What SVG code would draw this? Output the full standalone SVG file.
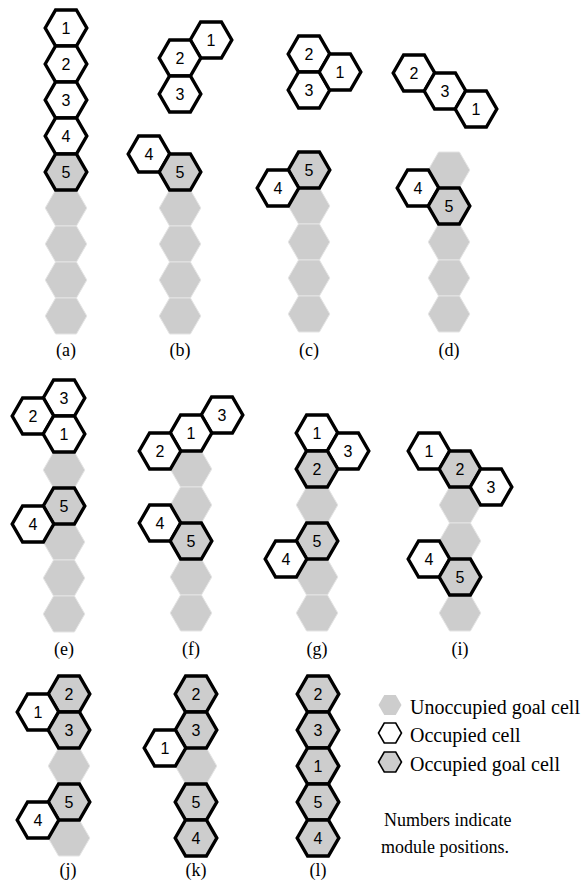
<svg xmlns="http://www.w3.org/2000/svg" xmlns:xlink="http://www.w3.org/1999/xlink" width="587" height="889" viewBox="0 0 587 889">
  <style>
    .g  { fill: #cdcdcd; stroke: #e4e4e4; stroke-width: 1; }
    .o  { fill: #ffffff; stroke: #000000; stroke-width: 3.4; stroke-linejoin: miter; }
    .og { fill: #cdcdcd; stroke: #000000; stroke-width: 3.4; stroke-linejoin: miter; }
    .n  { font-family: "Liberation Sans", Arial, sans-serif; font-size: 16px; text-anchor: middle; fill: #000; }
    .cap { font-family: "Liberation Serif", "Times New Roman", serif; font-size: 18px; text-anchor: middle; fill: #000; }
    .lg { font-family: "Liberation Serif", "Times New Roman", serif; font-size: 20px; fill: #000; }
    .nt { font-family: "Liberation Serif", "Times New Roman", serif; font-size: 18px; fill: #000; }
    .lo { fill: #ffffff; stroke: #000; stroke-width: 1.6; }
    .log { fill: #cdcdcd; stroke: #000; stroke-width: 1.6; }
    .lg0 { fill: #cdcdcd; }
  </style>
  <defs>
    <!-- flat-topped hexagon, circumradius 20.8 -->
    <path id="hex" d="M-20.8,0 L-10.4,-18 L10.4,-18 L20.8,0 L10.4,18 L-10.4,18 Z"/>
    <path id="hexs" d="M-11.5,0 L-5.75,-10 L5.75,-10 L11.5,0 L5.75,10 L-5.75,10 Z"/>
  </defs>

  <!-- (a) -->
  <g id="panel-a">
    <g id="a-g1"><use xlink:href="#hex" href="#hex" class="g" x="66" y="208"/></g>
    <g id="a-g2"><use xlink:href="#hex" href="#hex" class="g" x="66" y="244"/></g>
    <g id="a-g3"><use xlink:href="#hex" href="#hex" class="g" x="66" y="280"/></g>
    <g id="a-g4"><use xlink:href="#hex" href="#hex" class="g" x="66" y="316"/></g>
    <g id="a-m1"><use xlink:href="#hex" href="#hex" class="o" x="66" y="28"/><text class="n" x="66" y="34">1</text></g>
    <g id="a-m2"><use xlink:href="#hex" href="#hex" class="o" x="66" y="64"/><text class="n" x="66" y="70">2</text></g>
    <g id="a-m3"><use xlink:href="#hex" href="#hex" class="o" x="66" y="100"/><text class="n" x="66" y="106">3</text></g>
    <g id="a-m4"><use xlink:href="#hex" href="#hex" class="o" x="66" y="136"/><text class="n" x="66" y="142">4</text></g>
    <g id="a-m5"><use xlink:href="#hex" href="#hex" class="og" x="66" y="172"/><text class="n" x="66" y="178">5</text></g>
    <text class="cap" x="66" y="356">(a)</text>
  </g>

  <!-- (b) -->
  <g id="panel-b">
    <g id="b-g1"><use xlink:href="#hex" href="#hex" class="g" x="180" y="208"/></g>
    <g id="b-g2"><use xlink:href="#hex" href="#hex" class="g" x="180" y="244"/></g>
    <g id="b-g3"><use xlink:href="#hex" href="#hex" class="g" x="180" y="280"/></g>
    <g id="b-g4"><use xlink:href="#hex" href="#hex" class="g" x="180" y="316"/></g>
    <g id="b-m1"><use xlink:href="#hex" href="#hex" class="o" x="211" y="40"/><text class="n" x="211" y="46">1</text></g>
    <g id="b-m2"><use xlink:href="#hex" href="#hex" class="o" x="180" y="58"/><text class="n" x="180" y="64">2</text></g>
    <g id="b-m3"><use xlink:href="#hex" href="#hex" class="o" x="180" y="94"/><text class="n" x="180" y="100">3</text></g>
    <g id="b-m4"><use xlink:href="#hex" href="#hex" class="o" x="149" y="154"/><text class="n" x="149" y="160">4</text></g>
    <g id="b-m5"><use xlink:href="#hex" href="#hex" class="og" x="180" y="172"/><text class="n" x="180" y="178">5</text></g>
    <text class="cap" x="180" y="356">(b)</text>
  </g>

  <!-- (c) -->
  <g id="panel-c">
    <g id="c-g1"><use xlink:href="#hex" href="#hex" class="g" x="309" y="206"/></g>
    <g id="c-g2"><use xlink:href="#hex" href="#hex" class="g" x="309" y="242"/></g>
    <g id="c-g3"><use xlink:href="#hex" href="#hex" class="g" x="309" y="278"/></g>
    <g id="c-g4"><use xlink:href="#hex" href="#hex" class="g" x="309" y="314"/></g>
    <g id="c-m2"><use xlink:href="#hex" href="#hex" class="o" x="309" y="54"/><text class="n" x="309" y="60">2</text></g>
    <g id="c-m3"><use xlink:href="#hex" href="#hex" class="o" x="309" y="90"/><text class="n" x="309" y="96">3</text></g>
    <g id="c-m1"><use xlink:href="#hex" href="#hex" class="o" x="340" y="72"/><text class="n" x="340" y="78">1</text></g>
    <g id="c-m5"><use xlink:href="#hex" href="#hex" class="og" x="309" y="170"/><text class="n" x="309" y="176">5</text></g>
    <g id="c-m4"><use xlink:href="#hex" href="#hex" class="o" x="278" y="188"/><text class="n" x="278" y="194">4</text></g>
    <text class="cap" x="309" y="356">(c)</text>
  </g>

  <!-- (d) -->
  <g id="panel-d">
    <g id="d-g0"><use xlink:href="#hex" href="#hex" class="g" x="449" y="170"/></g>
    <g id="d-g1"><use xlink:href="#hex" href="#hex" class="g" x="449" y="242"/></g>
    <g id="d-g2"><use xlink:href="#hex" href="#hex" class="g" x="449" y="278"/></g>
    <g id="d-g3"><use xlink:href="#hex" href="#hex" class="g" x="449" y="314"/></g>
    <g id="d-m2"><use xlink:href="#hex" href="#hex" class="o" x="414" y="73"/><text class="n" x="414" y="79">2</text></g>
    <g id="d-m3"><use xlink:href="#hex" href="#hex" class="o" x="445" y="91"/><text class="n" x="445" y="97">3</text></g>
    <g id="d-m1"><use xlink:href="#hex" href="#hex" class="o" x="476" y="109"/><text class="n" x="476" y="115">1</text></g>
    <g id="d-m4"><use xlink:href="#hex" href="#hex" class="o" x="418" y="188"/><text class="n" x="418" y="194">4</text></g>
    <g id="d-m5"><use xlink:href="#hex" href="#hex" class="og" x="449" y="206"/><text class="n" x="449" y="212">5</text></g>
    <text class="cap" x="449" y="356">(d)</text>
  </g>

  <!-- (e) -->
  <g id="panel-e">
    <g id="e-g1"><use xlink:href="#hex" href="#hex" class="g" x="64" y="470"/></g>
    <g id="e-g2"><use xlink:href="#hex" href="#hex" class="g" x="64" y="542"/></g>
    <g id="e-g3"><use xlink:href="#hex" href="#hex" class="g" x="64" y="578"/></g>
    <g id="e-g4"><use xlink:href="#hex" href="#hex" class="g" x="64" y="614"/></g>
    <g id="e-m3"><use xlink:href="#hex" href="#hex" class="o" x="64" y="398"/><text class="n" x="64" y="404">3</text></g>
    <g id="e-m2"><use xlink:href="#hex" href="#hex" class="o" x="33" y="416"/><text class="n" x="33" y="422">2</text></g>
    <g id="e-m1"><use xlink:href="#hex" href="#hex" class="o" x="64" y="434"/><text class="n" x="64" y="440">1</text></g>
    <g id="e-m5"><use xlink:href="#hex" href="#hex" class="og" x="64" y="506"/><text class="n" x="64" y="512">5</text></g>
    <g id="e-m4"><use xlink:href="#hex" href="#hex" class="o" x="33" y="524"/><text class="n" x="33" y="530">4</text></g>
    <text class="cap" x="64" y="655">(e)</text>
  </g>

  <!-- (f) -->
  <g id="panel-f">
    <g id="f-g1"><use xlink:href="#hex" href="#hex" class="g" x="191" y="469"/></g>
    <g id="f-g2"><use xlink:href="#hex" href="#hex" class="g" x="191" y="505"/></g>
    <g id="f-g3"><use xlink:href="#hex" href="#hex" class="g" x="191" y="577"/></g>
    <g id="f-g4"><use xlink:href="#hex" href="#hex" class="g" x="191" y="613"/></g>
    <g id="f-m3"><use xlink:href="#hex" href="#hex" class="o" x="222" y="415"/><text class="n" x="222" y="421">3</text></g>
    <g id="f-m1"><use xlink:href="#hex" href="#hex" class="o" x="191" y="433"/><text class="n" x="191" y="439">1</text></g>
    <g id="f-m2"><use xlink:href="#hex" href="#hex" class="o" x="160" y="451"/><text class="n" x="160" y="457">2</text></g>
    <g id="f-m4"><use xlink:href="#hex" href="#hex" class="o" x="160" y="523"/><text class="n" x="160" y="529">4</text></g>
    <g id="f-m5"><use xlink:href="#hex" href="#hex" class="og" x="191" y="541"/><text class="n" x="191" y="547">5</text></g>
    <text class="cap" x="191" y="655">(f)</text>
  </g>

  <!-- (g) -->
  <g id="panel-g">
    <g id="g-g1"><use xlink:href="#hex" href="#hex" class="g" x="317" y="505"/></g>
    <g id="g-g2"><use xlink:href="#hex" href="#hex" class="g" x="317" y="577"/></g>
    <g id="g-g3"><use xlink:href="#hex" href="#hex" class="g" x="317" y="613"/></g>
    <g id="g-m1"><use xlink:href="#hex" href="#hex" class="o" x="317" y="433"/><text class="n" x="317" y="439">1</text></g>
    <g id="g-m3"><use xlink:href="#hex" href="#hex" class="o" x="348" y="451"/><text class="n" x="348" y="457">3</text></g>
    <g id="g-m2"><use xlink:href="#hex" href="#hex" class="og" x="317" y="469"/><text class="n" x="317" y="475">2</text></g>
    <g id="g-m5"><use xlink:href="#hex" href="#hex" class="og" x="317" y="541"/><text class="n" x="317" y="547">5</text></g>
    <g id="g-m4"><use xlink:href="#hex" href="#hex" class="o" x="286" y="559"/><text class="n" x="286" y="565">4</text></g>
    <text class="cap" x="317" y="655">(g)</text>
  </g>

  <!-- (i) -->
  <g id="panel-i">
    <g id="i-g1"><use xlink:href="#hex" href="#hex" class="g" x="460" y="505"/></g>
    <g id="i-g2"><use xlink:href="#hex" href="#hex" class="g" x="460" y="541"/></g>
    <g id="i-g3"><use xlink:href="#hex" href="#hex" class="g" x="460" y="613"/></g>
    <g id="i-m1"><use xlink:href="#hex" href="#hex" class="o" x="429" y="451"/><text class="n" x="429" y="457">1</text></g>
    <g id="i-m2"><use xlink:href="#hex" href="#hex" class="og" x="460" y="469"/><text class="n" x="460" y="475">2</text></g>
    <g id="i-m3"><use xlink:href="#hex" href="#hex" class="o" x="491" y="487"/><text class="n" x="491" y="493">3</text></g>
    <g id="i-m4"><use xlink:href="#hex" href="#hex" class="o" x="429" y="559"/><text class="n" x="429" y="565">4</text></g>
    <g id="i-m5"><use xlink:href="#hex" href="#hex" class="og" x="460" y="577"/><text class="n" x="460" y="583">5</text></g>
    <text class="cap" x="460" y="655">(i)</text>
  </g>

  <!-- (j) -->
  <g id="panel-j">
    <g id="j-g1"><use xlink:href="#hex" href="#hex" class="g" x="69" y="766"/></g>
    <g id="j-g2"><use xlink:href="#hex" href="#hex" class="g" x="69" y="838"/></g>
    <g id="j-m2"><use xlink:href="#hex" href="#hex" class="og" x="69" y="694"/><text class="n" x="69" y="700">2</text></g>
    <g id="j-m1"><use xlink:href="#hex" href="#hex" class="o" x="38" y="712"/><text class="n" x="38" y="718">1</text></g>
    <g id="j-m3"><use xlink:href="#hex" href="#hex" class="og" x="69" y="730"/><text class="n" x="69" y="736">3</text></g>
    <g id="j-m5"><use xlink:href="#hex" href="#hex" class="og" x="69" y="802"/><text class="n" x="69" y="808">5</text></g>
    <g id="j-m4"><use xlink:href="#hex" href="#hex" class="o" x="38" y="820"/><text class="n" x="38" y="826">4</text></g>
    <text class="cap" x="68" y="876">(j)</text>
  </g>

  <!-- (k) -->
  <g id="panel-k">
    <g id="k-g1"><use xlink:href="#hex" href="#hex" class="g" x="196" y="766"/></g>
    <g id="k-m2"><use xlink:href="#hex" href="#hex" class="og" x="196" y="694"/><text class="n" x="196" y="700">2</text></g>
    <g id="k-m3"><use xlink:href="#hex" href="#hex" class="og" x="196" y="730"/><text class="n" x="196" y="736">3</text></g>
    <g id="k-m1"><use xlink:href="#hex" href="#hex" class="o" x="165" y="748"/><text class="n" x="165" y="754">1</text></g>
    <g id="k-m5"><use xlink:href="#hex" href="#hex" class="og" x="196" y="802"/><text class="n" x="196" y="808">5</text></g>
    <g id="k-m4"><use xlink:href="#hex" href="#hex" class="og" x="196" y="838"/><text class="n" x="196" y="844">4</text></g>
    <text class="cap" x="196" y="876">(k)</text>
  </g>

  <!-- (l) -->
  <g id="panel-l">
    <g id="l-m2"><use xlink:href="#hex" href="#hex" class="og" x="318" y="694"/><text class="n" x="318" y="700">2</text></g>
    <g id="l-m3"><use xlink:href="#hex" href="#hex" class="og" x="318" y="730"/><text class="n" x="318" y="736">3</text></g>
    <g id="l-m1"><use xlink:href="#hex" href="#hex" class="og" x="318" y="766"/><text class="n" x="318" y="772">1</text></g>
    <g id="l-m5"><use xlink:href="#hex" href="#hex" class="og" x="318" y="802"/><text class="n" x="318" y="808">5</text></g>
    <g id="l-m4"><use xlink:href="#hex" href="#hex" class="og" x="318" y="838"/><text class="n" x="318" y="844">4</text></g>
    <text class="cap" x="318" y="876">(l)</text>
  </g>

  <!-- legend -->
  <g id="legend">
    <g id="legend-unoccupied"><use xlink:href="#hexs" href="#hexs" class="lg0" x="390" y="705"/><text class="lg" x="410" y="714">Unoccupied goal cell</text></g>
    <g id="legend-occupied"><use xlink:href="#hexs" href="#hexs" class="lo" x="390" y="733"/><text class="lg" x="410" y="742">Occupied cell</text></g>
    <g id="legend-occupied-goal"><use xlink:href="#hexs" href="#hexs" class="log" x="390" y="762"/><text class="lg" x="410" y="771">Occupied goal cell</text></g>
    <text class="nt" x="384" y="826">Numbers indicate</text>
    <text class="nt" x="381" y="853">module positions.</text>
  </g>

  <!-- no connectors in this figure -->
  <g id="connectors"/>
</svg>
